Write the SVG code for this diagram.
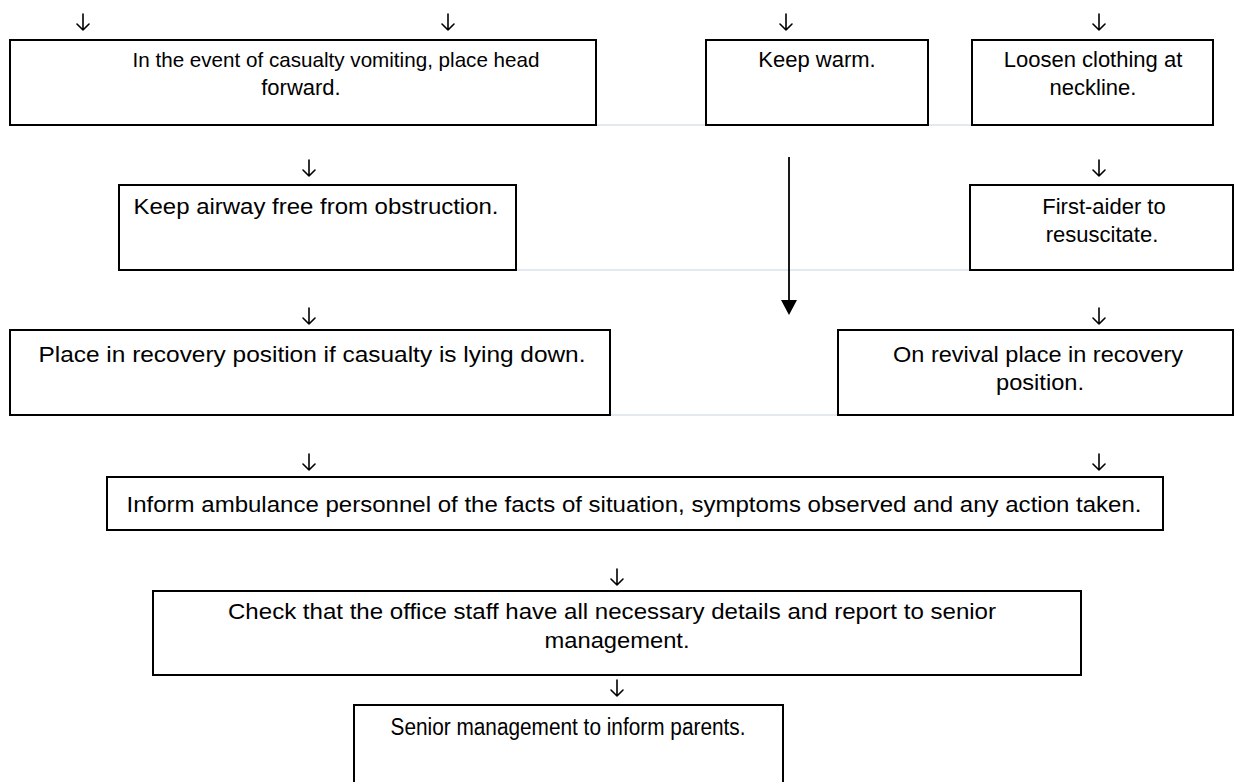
<svg xmlns="http://www.w3.org/2000/svg" width="1234" height="782" viewBox="0 0 1234 782">
<style>
.box{fill:#fff;stroke:#000;stroke-width:2}
.t{font-family:"Liberation Sans",Arial,sans-serif;font-size:22px;fill:#000;text-anchor:middle}
.s{font-size:21px}
.l{font-size:23px}
.lb{stroke:#c8d4e3;stroke-width:1.2;fill:none}
.dn{stroke:#000;stroke-width:1.6;fill:none;stroke-linecap:round;stroke-linejoin:round}
</style>
<defs>
<path id="dn" class="dn" d="M0,0 V16 M-6,10 L0,16 L6,10"/>
</defs>
<rect width="1234" height="782" fill="#fff"/>
<g id="connectors">
<line class="lb" x1="596" y1="125" x2="706" y2="125"/>
<line class="lb" x1="928" y1="125" x2="972" y2="125"/>
<line class="lb" x1="516" y1="270" x2="970" y2="270"/>
<line class="lb" x1="610" y1="415" x2="838" y2="415"/>
<line x1="789" y1="157" x2="789" y2="300" stroke="#000" stroke-width="1.8"/>
<path d="M781,300 L797,300 L789,315 Z" fill="#000"/>
<use href="#dn" x="83" y="14"/>
<use href="#dn" x="448" y="14"/>
<use href="#dn" x="786" y="14"/>
<use href="#dn" x="1099" y="14"/>
<use href="#dn" x="309" y="160"/>
<use href="#dn" x="1099" y="160"/>
<use href="#dn" x="309" y="308"/>
<use href="#dn" x="1099" y="308"/>
<use href="#dn" x="309" y="454"/>
<use href="#dn" x="1099" y="454"/>
<use href="#dn" x="617" y="569"/>
<use href="#dn" x="617" y="680"/>
</g>
<g id="n1">
<rect class="box" x="10" y="40" width="586" height="85"/>
<text class="t s" x="336" y="67" textLength="407" lengthAdjust="spacingAndGlyphs">In the event of casualty vomiting, place head</text>
<text class="t" x="301" y="95">forward.</text>
</g>
<g id="n2">
<rect class="box" x="706" y="40" width="222" height="85"/>
<text class="t" x="817" y="67">Keep warm.</text>
</g>
<g id="n3">
<rect class="box" x="972" y="40" width="241" height="85"/>
<text class="t" x="1093" y="67">Loosen clothing at</text>
<text class="t" x="1093" y="95">neckline.</text>
</g>
<g id="n4">
<rect class="box" x="119" y="185" width="397" height="85"/>
<text class="t" x="316" y="214" textLength="365" lengthAdjust="spacingAndGlyphs">Keep airway free from obstruction.</text>
</g>
<g id="n5">
<rect class="box" x="970" y="185" width="263" height="85"/>
<text class="t" x="1104" y="214">First-aider to</text>
<text class="t" x="1102" y="242">resuscitate.</text>
</g>
<g id="n6">
<rect class="box" x="10" y="330" width="600" height="85"/>
<text class="t" x="312" y="362" textLength="547" lengthAdjust="spacingAndGlyphs">Place in recovery position if casualty is lying down.</text>
</g>
<g id="n7">
<rect class="box" x="838" y="330" width="395" height="85"/>
<text class="t" x="1038" y="362" textLength="290" lengthAdjust="spacingAndGlyphs">On revival place in recovery</text>
<text class="t" x="1040" y="390" textLength="88" lengthAdjust="spacingAndGlyphs">position.</text>
</g>
<g id="n8">
<rect class="box" x="107" y="477" width="1056" height="53"/>
<text class="t" x="634" y="512" textLength="1015" lengthAdjust="spacingAndGlyphs">Inform ambulance personnel of the facts of situation, symptoms observed and any action taken.</text>
</g>
<g id="n9">
<rect class="box" x="153" y="591" width="928" height="84"/>
<text class="t" x="612" y="619" textLength="768" lengthAdjust="spacingAndGlyphs">Check that the office staff have all necessary details and report to senior</text>
<text class="t" x="617" y="648" textLength="145" lengthAdjust="spacingAndGlyphs">management.</text>
</g>
<g id="n10">
<rect class="box" x="354" y="705" width="429" height="90"/>
<text class="t l" x="568" y="735" textLength="355" lengthAdjust="spacingAndGlyphs">Senior management to inform parents.</text>
</g>
</svg>
